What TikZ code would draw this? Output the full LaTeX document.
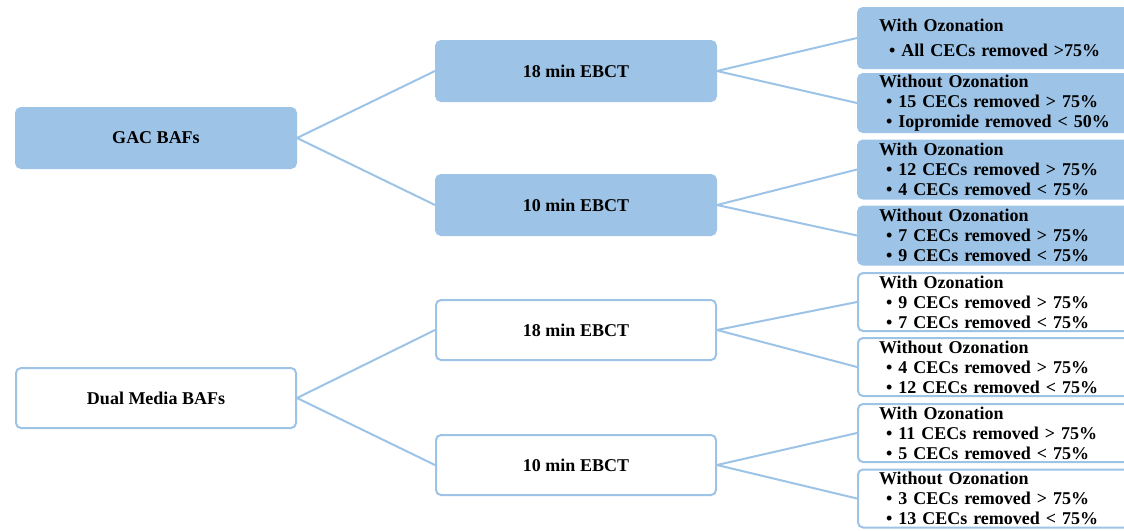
\documentclass[tikz,border=0pt]{standalone}
\usepackage{fontspec}
\setmainfont{Liberation Serif}
\definecolor{bl}{HTML}{9DC3E6}
\begin{document}
\begin{tikzpicture}[x=1pt,y=-1pt,
 box/.style={rounded corners=5pt, draw=bl, line width=2pt, minimum width=280pt, minimum height=60pt, font=\fontsize{18}{20}\selectfont\bfseries, inner sep=0pt},
 filledbox/.style={box, fill=bl},
 plainbox/.style={box, fill=white},
 leaf/.style={rounded corners=5pt, draw=bl, line width=2pt, minimum width=282pt, minimum height=58pt, text width=240pt, align=left, inner xsep=21pt, inner ysep=0pt, font=\fontsize{18}{20}\selectfont\bfseries, anchor=west},
 leaffilled/.style={leaf, fill=bl},
 leafplain/.style={leaf, fill=white},
 conn/.style={draw=bl, line width=2pt}]
\useasboundingbox (0,0) rectangle (1124,530);
% roots
\node[filledbox] (gac) at (156,138) {GAC BAFs};
\node[plainbox] (dual) at (156,398) {Dual Media BAFs};
% middle
\node[filledbox] (g18) at (576,71) {18 min EBCT};
\node[filledbox] (g10) at (576,205) {10 min EBCT};
\node[plainbox] (d18) at (576,330) {18 min EBCT};
\node[plainbox] (d10) at (576,465) {10 min EBCT};
% leaves
\node[leaffilled, minimum height=60pt] (l1) at (857,38) {With Ozonation\\[5pt]\hspace*{10pt}\textbullet\ All CECs removed >75\%};
\node[leaffilled] (l2) at (857,103) {Without Ozonation\\\hspace*{7pt}\textbullet\ 15 CECs removed > 75\%\\\hspace*{7pt}\textbullet\ Iopromide removed < 50\%};
\node[leaffilled] (l3) at (857,169.5) {With Ozonation\\\hspace*{7pt}\textbullet\ 12 CECs removed > 75\%\\\hspace*{7pt}\textbullet\ 4 CECs removed < 75\%};
\node[leaffilled] (l4) at (857,235.5) {Without Ozonation\\\hspace*{7pt}\textbullet\ 7 CECs removed > 75\%\\\hspace*{7pt}\textbullet\ 9 CECs removed < 75\%};
\node[leafplain] (l5) at (857,302) {With Ozonation\\\hspace*{7pt}\textbullet\ 9 CECs removed > 75\%\\\hspace*{7pt}\textbullet\ 7 CECs removed < 75\%};
\node[leafplain] (l6) at (857,367) {Without Ozonation\\\hspace*{7pt}\textbullet\ 4 CECs removed > 75\%\\\hspace*{7pt}\textbullet\ 12 CECs removed < 75\%};
\node[leafplain] (l7) at (857,433) {With Ozonation\\\hspace*{7pt}\textbullet\ 11 CECs removed > 75\%\\\hspace*{7pt}\textbullet\ 5 CECs removed < 75\%};
\node[leafplain] (l8) at (857,498.5) {Without Ozonation\\\hspace*{7pt}\textbullet\ 3 CECs removed > 75\%\\\hspace*{7pt}\textbullet\ 13 CECs removed < 75\%};
% connectors
\draw[conn] (gac.east) -- (g18.west);
\draw[conn] (gac.east) -- (g10.west);
\draw[conn] (dual.east) -- (d18.west);
\draw[conn] (dual.east) -- (d10.west);
\draw[conn] (g18.east) -- (l1.west);
\draw[conn] (g18.east) -- (l2.west);
\draw[conn] (g10.east) -- (l3.west);
\draw[conn] (g10.east) -- (l4.west);
\draw[conn] (d18.east) -- (l5.west);
\draw[conn] (d18.east) -- (l6.west);
\draw[conn] (d10.east) -- (l7.west);
\draw[conn] (d10.east) -- (l8.west);
\end{tikzpicture}
\end{document}
